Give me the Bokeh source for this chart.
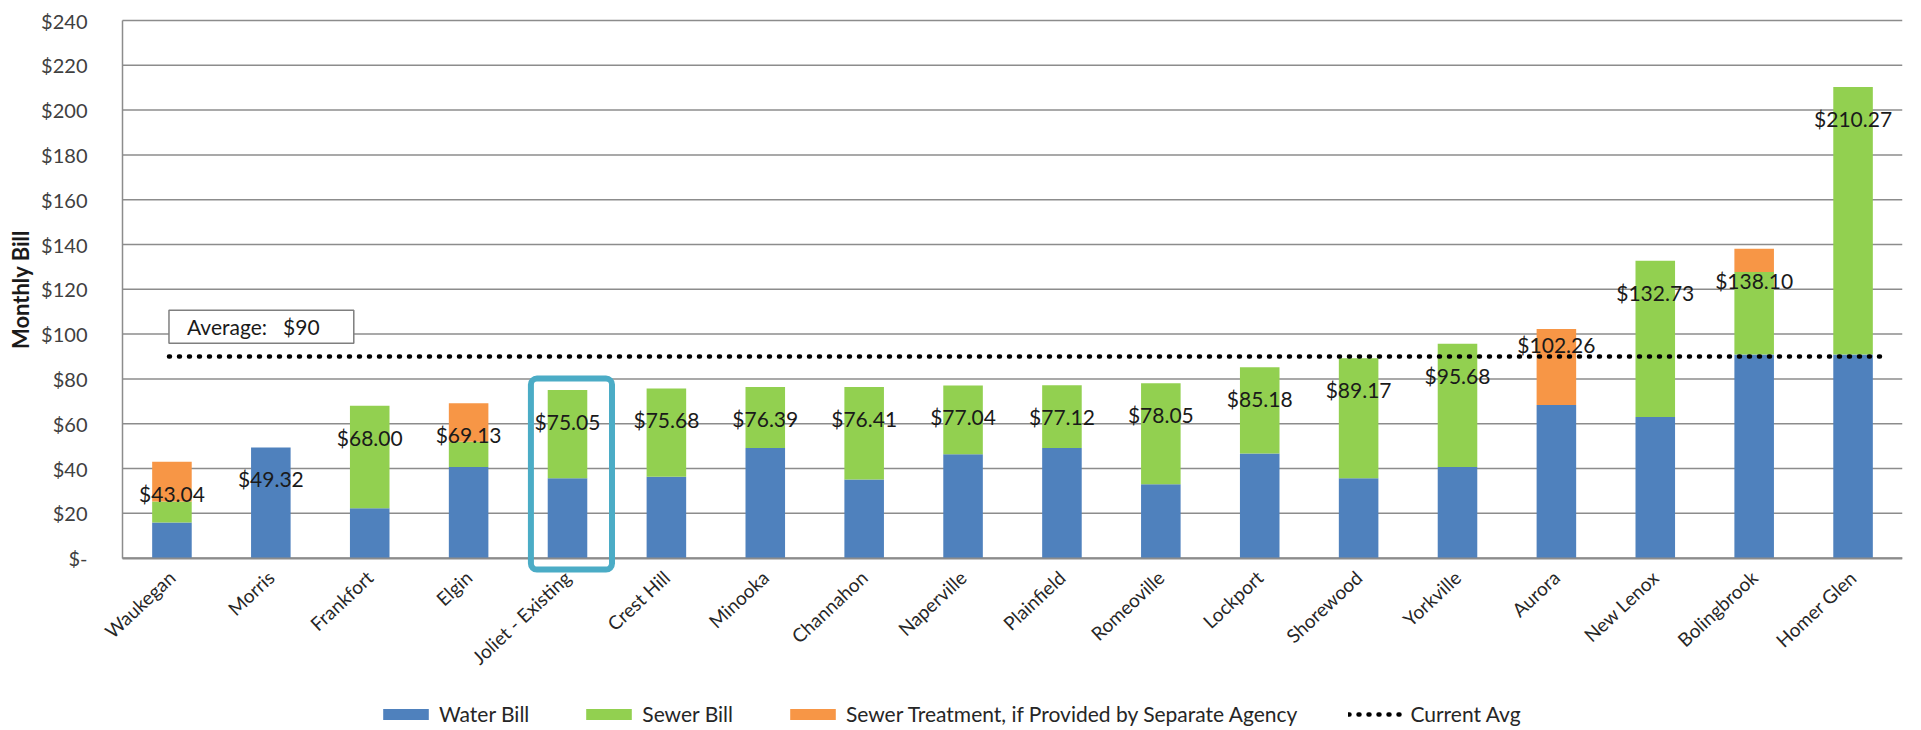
import math
from bokeh.plotting import figure
from bokeh.models import (ColumnDataSource, FixedTicker, Range1d, Legend, LegendItem,
                          Label, BoxAnnotation)
from bokeh.embed import file_html
from bokeh.resources import INLINE
from bokeh.core.properties import value

# ---------------- data ----------------
cities = ["Waukegan", "Morris", "Frankfort", "Elgin", "Joliet - Existing", "Crest Hill",
          "Minooka", "Channahon", "Naperville", "Plainfield", "Romeoville", "Lockport",
          "Shorewood", "Yorkville", "Aurora", "New Lenox", "Bolingbrook", "Homer Glen"]
water = [15.90, 49.32, 22.20, 40.70, 35.60, 36.30, 49.20, 35.10, 46.40, 49.20,
         33.00, 46.70, 35.60, 40.70, 68.40, 63.00, 90.90, 90.90]
sewer = [9.34, 0.00, 45.80, 11.23, 39.45, 39.38, 27.19, 41.31, 30.64, 27.92,
         45.05, 38.48, 53.57, 54.98, 0.00, 69.73, 36.80, 119.37]
treatment = [17.80, 0.00, 0.00, 17.20, 0.00, 0.00, 0.00, 0.00, 0.00, 0.00,
             0.00, 0.00, 0.00, 0.00, 33.86, 0.00, 10.40, 0.00]
totals = [43.04, 49.32, 68.00, 69.13, 75.05, 75.68, 76.39, 76.41, 77.04, 77.12,
          78.05, 85.18, 89.17, 95.68, 102.26, 132.73, 138.10, 210.27]
current_avg = 90
y_ticks = [0, 20, 40, 60, 80, 100, 120, 140, 160, 180, 200, 220, 240]
highlight = "Joliet - Existing"

# ---------------- styles / layout ----------------
FONT = "Lato"
C_WATER, C_SEWER, C_TREAT = "#4F81BD", "#92D050", "#F79646"
GRID = "#8C8C8C"
LABEL_DROP = 14.0          # data labels sit this far (in $) below the bar top
LABEL_DROP_SPECIAL = {"Aurora": 6.7}
AVG_LINE_OVERHANG = 0.28   # avg line runs a little past the last bar centre
FRAME_H = 726
FRAME_W = 1902
PLOT_LEFT_PX = 122         # where the value axis sits
PLOT_TOP_PX = 20           # where the top gridline sits
PX_PER_DOLLAR = 2.24
n = len(cities)
PX_PER_CAT = (FRAME_W - PLOT_LEFT_PX) / n
Y_HIGH = y_ticks[-1] + PLOT_TOP_PX / PX_PER_DOLLAR
Y_LOW = Y_HIGH - FRAME_H / PX_PER_DOLLAR            # room under $0 for labels + legend
X_LOW = -0.5 - PLOT_LEFT_PX / PX_PER_CAT           # room left of the axis for its labels

idx = list(range(n))
label_y = [t - LABEL_DROP_SPECIAL.get(c, LABEL_DROP) for c, t in zip(cities, totals)]
src = ColumnDataSource(dict(
    x=idx, water=water, sewer=sewer, treatment=treatment,
    ly=label_y, label=["${:.2f}".format(t) for t in totals],
))
avg_src = ColumnDataSource(dict(x=[idx[0] - 0.03, idx[-1] + AVG_LINE_OVERHANG],
                                y=[current_avg, current_avg]))
grid_src = ColumnDataSource(dict(y=y_ticks, x0=[-0.5] * len(y_ticks),
                                 x1=[n - 0.5] * len(y_ticks)))

p = figure(width=FRAME_W + 3, height=FRAME_H, x_range=Range1d(X_LOW, n - 0.5),
           y_range=Range1d(Y_LOW, Y_HIGH), output_backend="svg",
           toolbar_location=None, frame_height=FRAME_H, frame_width=FRAME_W,
           min_border_left=0, min_border_right=3, min_border_top=0,
           min_border_bottom=0)
p.outline_line_color = None
p.background_fill_color = "white"
p.border_fill_color = "white"
p.xgrid.grid_line_color = None
p.ygrid.grid_line_color = None

# horizontal gridlines, limited to the plot area
p.segment(x0="x0", y0="y", x1="x1", y1="y", source=grid_src,
          line_color=GRID, line_width=1.5)

# y axis
p.yaxis.fixed_location = -0.5
p.yaxis.ticker = FixedTicker(ticks=y_ticks)
p.yaxis.bounds = (0, y_ticks[-1])
p.yaxis.major_label_overrides = {t: ("$-" if t == 0 else "${}".format(t)) for t in y_ticks}
p.yaxis.axis_label = "Monthly Bill"
p.yaxis.axis_label_text_font = FONT
p.yaxis.axis_label_text_font_style = "bold"
p.yaxis.axis_label_text_font_size = "22px"
p.yaxis.axis_label_text_color = "#1a1a1a"
p.yaxis.axis_label_standoff = 4
p.yaxis.major_label_text_font = FONT
p.yaxis.major_label_text_font_size = "20px"
p.yaxis.major_label_text_color = "#404040"
p.yaxis.major_label_standoff = 29
p.yaxis.major_tick_line_color = None
p.yaxis.minor_tick_line_color = None
p.yaxis.axis_line_color = GRID
p.yaxis.axis_line_width = 1.5

# x axis drawn at $0
p.xaxis.fixed_location = 0
p.xaxis.bounds = (-0.5, n - 0.5)
p.xaxis.ticker = FixedTicker(ticks=idx)
p.xaxis.major_label_overrides = {i: c for i, c in zip(idx, cities)}
p.xaxis.major_label_orientation = math.radians(43)
p.xaxis.major_label_text_font = FONT
p.xaxis.major_label_text_font_size = "19px"
p.xaxis.major_label_text_color = "#262626"
p.xaxis.major_label_standoff = 10
p.xaxis.major_tick_line_color = None
p.xaxis.minor_tick_line_color = None
p.xaxis.axis_line_color = GRID
p.xaxis.axis_line_width = 2

# bars
bars = p.vbar_stack(["water", "sewer", "treatment"], x="x", width=0.4,
                    fill_color=[C_WATER, C_SEWER, C_TREAT], line_color=None, source=src)

# data labels
p.text(x="x", y="ly", text="label", source=src, text_align="center",
       text_baseline="middle", text_font=value(FONT), text_font_size=value("21px"),
       text_color="#1a1a1a")

# average line
avg_line = p.line(x="x", y="y", source=avg_src, line_color="black", line_width=4.5,
                  line_dash="1 9", line_cap="round")

# average label box
p.add_layout(Label(x=-0.03, y=current_avg + 13.3,
                   text="Average:\u00a0\u00a0 $90\u00a0\u00a0\u00a0",
                   text_align="left", text_baseline="middle", text_font=FONT,
                   text_font_size="21px", text_color="#1a1a1a",
                   background_fill_color="white", border_line_color="#7F7F7F",
                   border_line_width=1.5, padding=(18, 4)))

# highlight box around Joliet
hi = cities.index(highlight)
p.add_layout(BoxAnnotation(left=hi - 0.37, right=hi + 0.45,
                           top=totals[hi] + 5.1, bottom=-5.1,
                           fill_alpha=0, line_color="#4BACC6", line_alpha=1.0,
                           line_width=6, border_radius=6))

legend = Legend(items=[
    LegendItem(label="Water Bill", renderers=[bars[0]]),
    LegendItem(label="Sewer Bill", renderers=[bars[1]]),
    LegendItem(label="Sewer Treatment, if Provided by Separate Agency", renderers=[bars[2]]),
    LegendItem(label="Current Avg", renderers=[avg_line]),
], orientation="horizontal", location=(377, 0), glyph_width=57, glyph_height=14,
    label_text_font=FONT, label_text_font_size="21px", label_text_color="#262626",
    label_standoff=5, spacing=51, padding=2, margin=0, border_line_color=None,
    background_fill_alpha=0)
p.add_layout(legend)

open("out.html", "w").write(file_html(p, INLINE))
